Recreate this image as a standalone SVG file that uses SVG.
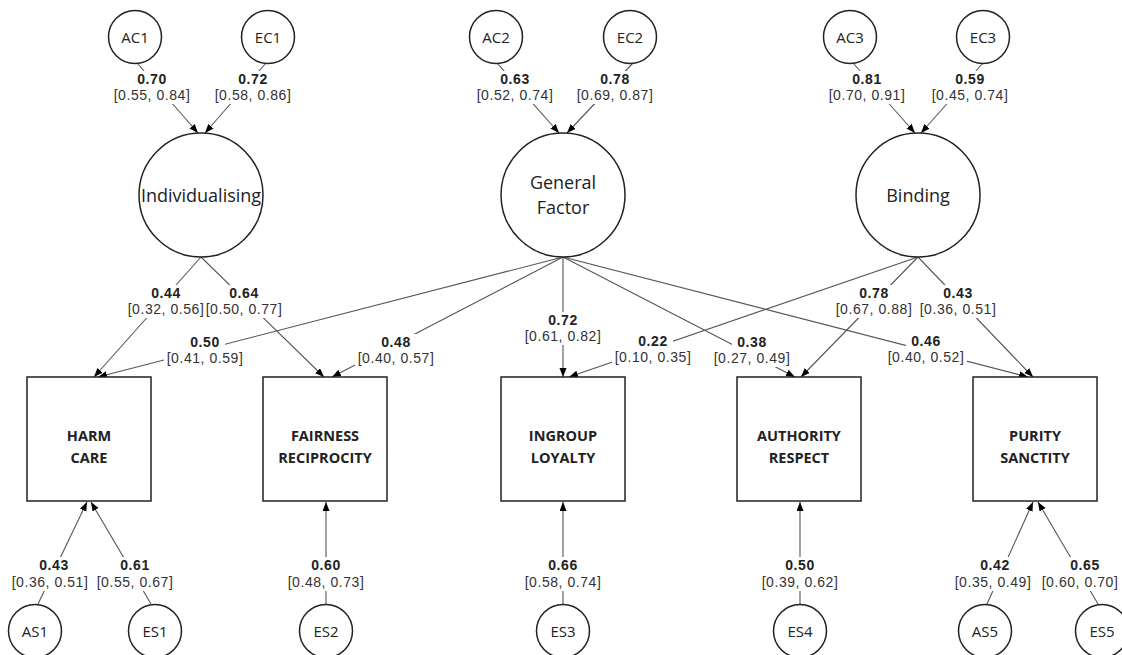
<svg xmlns="http://www.w3.org/2000/svg" width="1122" height="655" viewBox="0 0 1122 655">
<style>
.n{fill:#fff;stroke:#222;stroke-width:1.5}
.t{font-family:"Open Sans","Liberation Sans",sans-serif;fill:#222;text-anchor:middle}
.s{font-size:15px}
.l{font-size:18px}
.b{font-size:14.5px;font-weight:bold}
.c{fill:none;stroke:#555;stroke-width:1.1}
.lb{font-family:"Liberation Sans",Arial,sans-serif;text-anchor:middle;font-size:14px;letter-spacing:0.55px;fill:#333}
.lb .v{font-weight:bold;fill:#222}
</style>
<defs>
<marker id="ah" markerUnits="userSpaceOnUse" markerWidth="10" markerHeight="8" refX="9" refY="3.5" orient="auto"><path d="M0,0 L9,3.5 L0,7 Z" fill="#000"/></marker>
<mask id="lm" maskUnits="userSpaceOnUse" x="0" y="0" width="1122" height="655">
<rect x="0" y="0" width="1122" height="655" fill="#fff"/>
<g fill="#000">
<rect x="132" y="71" width="40" height="16"/><rect x="111" y="87" width="82" height="17"/>
<rect x="233" y="71" width="40" height="16"/><rect x="212" y="87" width="82" height="17"/>
<rect x="495" y="71" width="40" height="16"/><rect x="474" y="87" width="82" height="17"/>
<rect x="595" y="71" width="40" height="16"/><rect x="574" y="87" width="82" height="17"/>
<rect x="847" y="71" width="40" height="16"/><rect x="826" y="87" width="82" height="17"/>
<rect x="950" y="71" width="40" height="16"/><rect x="929" y="87" width="82" height="17"/>
<rect x="146" y="285" width="40" height="16"/><rect x="125" y="301" width="80" height="17"/>
<rect x="224" y="285" width="40" height="16"/><rect x="205" y="301" width="80" height="17"/>
<rect x="854" y="285" width="40" height="16"/><rect x="833" y="301" width="82" height="17"/>
<rect x="938" y="285" width="40" height="16"/><rect x="917" y="301" width="82" height="17"/>
<rect x="543" y="312" width="40" height="16"/><rect x="522" y="328" width="82" height="17"/>
<rect x="185" y="334" width="40" height="16"/><rect x="164" y="350" width="82" height="17"/>
<rect x="376" y="334" width="40" height="16"/><rect x="355" y="350" width="82" height="17"/>
<rect x="633" y="333" width="40" height="16"/><rect x="612" y="349" width="82" height="17"/>
<rect x="732" y="334" width="40" height="16"/><rect x="711" y="350" width="82" height="17"/>
<rect x="906" y="333" width="40" height="16"/><rect x="885" y="349" width="82" height="17"/>
<rect x="34" y="557" width="40" height="16"/><rect x="9" y="573" width="82" height="18"/>
<rect x="115" y="557" width="40" height="16"/><rect x="94" y="573" width="82" height="18"/>
<rect x="306" y="557" width="40" height="16"/><rect x="285" y="573" width="82" height="18"/>
<rect x="543" y="557" width="40" height="16"/><rect x="522" y="573" width="82" height="18"/>
<rect x="780" y="557" width="40" height="16"/><rect x="759" y="573" width="82" height="18"/>
<rect x="975" y="557" width="40" height="16"/><rect x="952" y="573" width="82" height="18"/>
<rect x="1065" y="557" width="40" height="16"/><rect x="1039" y="573" width="83" height="18"/>
</g>
</mask>
</defs>
<rect width="1122" height="655" fill="#fff"/>

<g id="connectors" class="c" mask="url(#lm)" marker-end="url(#ah)">
<line x1="137" y1="63" x2="198" y2="133"/>
<line x1="266" y1="63" x2="205" y2="133"/>
<line x1="497" y1="63" x2="559" y2="133"/>
<line x1="633" y1="63" x2="567" y2="133"/>
<line x1="853" y1="63" x2="915" y2="133"/>
<line x1="983" y1="63" x2="921" y2="133"/>
<line x1="201" y1="257" x2="94" y2="377"/>
<line x1="201" y1="257" x2="324" y2="377"/>
<line x1="563" y1="257" x2="98" y2="377"/>
<line x1="563" y1="257" x2="332" y2="377"/>
<line x1="563" y1="257" x2="563" y2="377"/>
<line x1="918" y1="257" x2="569" y2="377"/>
<line x1="563" y1="257" x2="795" y2="377"/>
<line x1="918" y1="257" x2="801" y2="377"/>
<line x1="563" y1="257" x2="1028" y2="377"/>
<line x1="918" y1="257" x2="1033" y2="377"/>
<line x1="38" y1="604" x2="87" y2="502"/>
<line x1="151" y1="604" x2="91" y2="502"/>
<line x1="326" y1="604" x2="326" y2="502"/>
<line x1="563" y1="604" x2="563" y2="502"/>
<line x1="800" y1="604" x2="800" y2="502"/>
<line x1="987" y1="604" x2="1033" y2="502"/>
<line x1="1098" y1="604" x2="1038" y2="502"/>
</g>

<g id="labels" class="lb">
<text x="152" y="84" class="v">0.70</text><text x="152" y="100">[0.55, 0.84]</text>
<text x="253" y="84" class="v">0.72</text><text x="253" y="100">[0.58, 0.86]</text>
<text x="515" y="84" class="v">0.63</text><text x="515" y="100">[0.52, 0.74]</text>
<text x="615" y="84" class="v">0.78</text><text x="615" y="100">[0.69, 0.87]</text>
<text x="867" y="84" class="v">0.81</text><text x="867" y="100">[0.70, 0.91]</text>
<text x="970" y="84" class="v">0.59</text><text x="970" y="100">[0.45, 0.74]</text>
<text x="166" y="298" class="v">0.44</text><text x="166" y="314">[0.32, 0.56]</text>
<text x="244" y="298" class="v">0.64</text><text x="244" y="314">[0.50, 0.77]</text>
<text x="874" y="298" class="v">0.78</text><text x="874" y="314">[0.67, 0.88]</text>
<text x="958" y="298" class="v">0.43</text><text x="958" y="314">[0.36, 0.51]</text>
<text x="563" y="325" class="v">0.72</text><text x="563" y="341">[0.61, 0.82]</text>
<text x="205" y="347" class="v">0.50</text><text x="205" y="363">[0.41, 0.59]</text>
<text x="396" y="347" class="v">0.48</text><text x="396" y="363">[0.40, 0.57]</text>
<text x="653" y="346" class="v">0.22</text><text x="653" y="362">[0.10, 0.35]</text>
<text x="752" y="347" class="v">0.38</text><text x="752" y="363">[0.27, 0.49]</text>
<text x="926" y="346" class="v">0.46</text><text x="926" y="362">[0.40, 0.52]</text>
<text x="54" y="570" class="v">0.43</text><text x="50" y="587">[0.36, 0.51]</text>
<text x="135" y="570" class="v">0.61</text><text x="135" y="587">[0.55, 0.67]</text>
<text x="326" y="570" class="v">0.60</text><text x="326" y="587">[0.48, 0.73]</text>
<text x="563" y="570" class="v">0.66</text><text x="563" y="587">[0.58, 0.74]</text>
<text x="800" y="570" class="v">0.50</text><text x="800" y="587">[0.39, 0.62]</text>
<text x="995" y="570" class="v">0.42</text><text x="993" y="587">[0.35, 0.49]</text>
<text x="1085" y="570" class="v">0.65</text><text x="1080" y="587">[0.60, 0.70]</text>
</g>

<g id="AC1"><circle class="n" cx="135" cy="37" r="26.5"/><text class="t s" x="135" y="43">AC1</text></g>
<g id="EC1"><circle class="n" cx="268" cy="37" r="26.5"/><text class="t s" x="268" y="43">EC1</text></g>
<g id="AC2"><circle class="n" cx="496" cy="37" r="26.5"/><text class="t s" x="496" y="43">AC2</text></g>
<g id="EC2"><circle class="n" cx="630" cy="37" r="26.5"/><text class="t s" x="630" y="43">EC2</text></g>
<g id="AC3"><circle class="n" cx="850" cy="37" r="26.5"/><text class="t s" x="850" y="43">AC3</text></g>
<g id="EC3"><circle class="n" cx="983" cy="37" r="26.5"/><text class="t s" x="983" y="43">EC3</text></g>

<g id="Individualising"><circle class="n" cx="201" cy="195" r="62"/><text class="t l" x="201" y="202">Individualising</text></g>
<g id="GeneralFactor"><circle class="n" cx="563" cy="195" r="62"/><text class="t l" x="563" y="189">General</text><text class="t l" x="563" y="214">Factor</text></g>
<g id="Binding"><circle class="n" cx="918" cy="195" r="62"/><text class="t l" x="918" y="202">Binding</text></g>

<g id="HarmCare"><rect class="n" x="27" y="377" width="124" height="124"/><text class="t b" x="89" y="441">HARM</text><text class="t b" x="89" y="463">CARE</text></g>
<g id="FairnessReciprocity"><rect class="n" x="263" y="377" width="124" height="124"/><text class="t b" x="325" y="441">FAIRNESS</text><text class="t b" x="325" y="463">RECIPROCITY</text></g>
<g id="IngroupLoyalty"><rect class="n" x="501" y="377" width="124" height="124"/><text class="t b" x="563" y="441">INGROUP</text><text class="t b" x="563" y="463">LOYALTY</text></g>
<g id="AuthorityRespect"><rect class="n" x="737" y="377" width="124" height="124"/><text class="t b" x="799" y="441">AUTHORITY</text><text class="t b" x="799" y="463">RESPECT</text></g>
<g id="PuritySanctity"><rect class="n" x="973" y="377" width="124" height="124"/><text class="t b" x="1035" y="441">PURITY</text><text class="t b" x="1035" y="463">SANCTITY</text></g>

<g id="AS1"><circle class="n" cx="35" cy="631" r="26.5"/><text class="t s" x="35" y="637">AS1</text></g>
<g id="ES1"><circle class="n" cx="155" cy="631" r="26.5"/><text class="t s" x="155" y="637">ES1</text></g>
<g id="ES2"><circle class="n" cx="326" cy="631" r="26.5"/><text class="t s" x="326" y="637">ES2</text></g>
<g id="ES3"><circle class="n" cx="563" cy="631" r="26.5"/><text class="t s" x="563" y="637">ES3</text></g>
<g id="ES4"><circle class="n" cx="800" cy="631" r="26.5"/><text class="t s" x="800" y="637">ES4</text></g>
<g id="AS5"><circle class="n" cx="985" cy="631" r="26.5"/><text class="t s" x="985" y="637">AS5</text></g>
<g id="ES5"><circle class="n" cx="1102" cy="631" r="26.5"/><text class="t s" x="1102" y="637">ES5</text></g>
</svg>
